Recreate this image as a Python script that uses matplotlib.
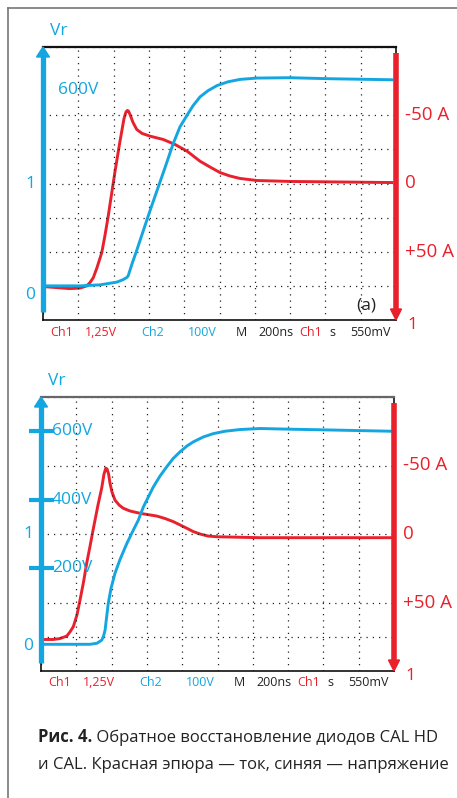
import matplotlib.pyplot as plt
import matplotlib.lines as mlines
from matplotlib.patches import Polygon
from matplotlib.ticker import MultipleLocator

plt.rcParams['font.family'] = ['Open Sans', 'DejaVu Sans']

BLUE = '#13a6e1'
RED = '#e8212c'
DARK = '#222222'

# (a) CAL HD: time in ns, voltage in V, current in A (scope traces)
t_volt_a = [21, 210, 323, 418, 453, 476, 483, 504, 531, 606, 691, 737, 776, 816, 850, 890,
            935, 986, 1048, 1116, 1212, 1399, 1626, 1977]
volt_a = [0, 0, 3, 11, 18, 25, 30, 64, 104, 220, 346, 416, 466, 500, 528, 554, 572, 587, 598,
          605, 609, 610, 607, 604]
t_curr_a = [21, 153, 210, 248, 266, 285, 306, 333, 351, 370, 389, 408, 436, 459, 470, 478, 484,
            493, 510, 531, 561, 606, 680, 748, 816, 890, 946, 1003, 1059, 1116, 1212, 1399, 1977]
curr_a = [75.7, 77, 76.6, 75, 72.6, 69, 61.6, 50.6, 38.1, 23.5, 7.3, -8.8, -30.8, -47.6, -52.4,
          -53.5, -53.1, -50.6, -44.7, -39.6, -36.7, -34.7, -32.3, -28.6, -23.7, -16.3, -12.1,
          -8, -5.5, -3.7, -2.2, -1.5, -0.7]

# (b) CAL
t_volt_b = [13, 278, 317, 344, 354, 363, 371, 381, 397, 419, 448, 486, 516, 551, 580, 636, 674,
            712, 748, 788, 827, 863, 918, 976, 1042, 1128, 1241, 1411, 1609, 1989]
volt_b = [-22, -22, -19, -10, 1.5, 19, 54, 97, 142, 185, 226, 272, 304, 340, 379, 437, 469, 496,
          520, 540, 557, 569, 583, 593, 600, 605, 608, 606, 604, 600]
t_curr_b = [13, 70, 108, 146, 164, 183, 204, 221, 241, 259, 278, 295, 323, 344, 357, 367, 374,
            383, 391, 402, 419, 442, 466, 504, 561, 656, 703, 750, 788, 826, 862, 901, 946, 996,
            1241, 1989]
curr_b = [77, 77, 76.3, 74.5, 71.5, 67.7, 59, 48.2, 35, 21.2, 8.8, -2.9, -21.2, -33.6, -43.8,
          -48, -47.5, -43.8, -37, -30.7, -24.8, -21.2, -18.8, -16.8, -15.1, -13.1, -11.3, -9,
          -6.6, -4.2, -1.8, 0, 1.5, 2, 2.7, 2.7]

volt_ticks_a = [600]
volt_ticks_b = [200, 400, 600]
amp_ticks = [-50, 0, 50]
amp_labels = ['-50 A', '0', '+50 A']
scope_labels = ['Ch1', '1,25V', 'Ch2', '100V', 'M', '200ns', 'Ch1', 's', '550mV']
scope_colors = [RED, RED, BLUE, BLUE, DARK, DARK, RED, DARK, DARK]
scope_x_px = [7, 42, 98, 145, 193, 215, 256, 286, 307]

W, H = 457, 798
fig = plt.figure(figsize=(W / 100, H / 100), dpi=100)

# outer frame
fig.add_artist(mlines.Line2D([8 / W, 1], [1 - 8 / H, 1 - 8 / H], color='#777777', lw=1.2))
fig.add_artist(mlines.Line2D([8 / W, 8 / W], [0, 1 - 8 / H], color='#777777', lw=1.2))


def panel(rect, t_v, v, t_i, i, vticks, top_color, tag):
    left, top, right, bottom = rect
    wpx, hpx = right - left, bottom - top
    ax = fig.add_axes([left / W, 1 - bottom / H, wpx / W, hpx / H])
    ax2 = ax.twinx()
    ax.set_zorder(ax2.get_zorder() + 1)
    ax.patch.set_visible(False)
    ax2.patch.set_visible(False)

    ax.set_xlim(0, 2000)
    ax.set_ylim(-100, 700)
    ax2.set_ylim(100, -100)

    # dotted scope graticule
    ax.xaxis.set_major_locator(MultipleLocator(200))
    ax.yaxis.set_minor_locator(MultipleLocator(100))
    ax.set_yticks(vticks)
    ax.grid(axis='x', which='major', color='#222222', ls=(0, (1, 4)), lw=0.9)
    ax.grid(axis='y', which='minor', color='#222222', ls=(0, (1, 4)), lw=0.9)
    ax.tick_params(axis='x', length=0, labelbottom=False)
    ax.tick_params(axis='y', which='minor', length=0)
    ax.tick_params(axis='y', which='major', direction='inout', length=18, width=3,
                   color=BLUE, labelleft=False)
    if not tag:
        ax.tick_params(axis='y', which='major', length=0)
    ax2.set_yticks([])
    for s in ax2.spines.values():
        s.set_visible(False)
    for s in ax.spines.values():
        s.set_color('#111111')
        s.set_linewidth(1.2)
    ax.spines['top'].set_color(top_color)
    ax.spines['top'].set_linewidth(1.6)

    ax2.plot(t_i, i, color=RED, lw=2.1, solid_joinstyle='round')
    ax.plot(t_v, v, color=BLUE, lw=2.1, solid_joinstyle='round')

    # channel arrows
    ax.plot([0, 0], [8 / hpx, 1 - 9 / hpx], transform=ax.transAxes, color=BLUE, lw=3.8,
            solid_capstyle='butt', clip_on=False, zorder=5)
    ax.add_patch(Polygon([(0, 1), (-6.5 / wpx, 1 - 10 / hpx), (6.5 / wpx, 1 - 10 / hpx)],
                         closed=True, transform=ax.transAxes, color=BLUE, clip_on=False, zorder=5))
    ax.plot([1, 1], [1 - 6 / hpx, 9 / hpx], transform=ax.transAxes, color=RED, lw=4.0,
            solid_capstyle='butt', clip_on=False, zorder=5)
    ax.add_patch(Polygon([(1, 0), (1 - 5.5 / wpx, 11 / hpx), (1 + 5.5 / wpx, 11 / hpx)],
                         closed=True, transform=ax.transAxes, color=RED, clip_on=False, zorder=5))

    yt = ax.get_yaxis_transform()
    ax.text(7 / wpx, 1 + 16 / hpx, 'Vr', transform=ax.transAxes, color=BLUE, fontsize=12.5,
            ha='left', va='center')
    for vt in vticks:
        if tag:
            ax.text(11 / wpx, vt, f'{vt}V', transform=yt, color=BLUE, fontsize=12.5,
                    ha='left', va='center')
        else:
            ax.text(15 / wpx, vt - 26, f'{vt}V', transform=yt, color=BLUE, fontsize=12.5,
                    ha='left', va='center')
    ax.text(-13 / wpx, 300, '1', transform=yt, color=BLUE, fontsize=12.5, ha='center', va='center')
    ax.text(-13 / wpx, -26, '0', transform=yt, color=BLUE, fontsize=12.5, ha='center', va='center')

    yt2 = ax2.get_yaxis_transform()
    for a, lab in zip(amp_ticks, amp_labels):
        ax2.text(1 + 9 / wpx, a, lab, transform=yt2, color=RED, fontsize=13.5,
                 ha='left', va='center')
    ax.text(1 + 11 / wpx, -5 / hpx, '1', transform=ax.transAxes, color=RED, fontsize=12.5,
            ha='left', va='center')

    for lab, c, xp in zip(scope_labels, scope_colors, scope_x_px):
        ax.text(xp / wpx, -12 / hpx, lab, transform=ax.transAxes, color=c, fontsize=9,
                ha='left', va='center')
    if not tag:
        ax.text(1 - 30 / wpx, 15 / hpx, '(a)', transform=ax.transAxes, color=DARK,
                fontsize=12.5, ha='center', va='center')
    return ax


panel((43, 47, 396, 320), t_volt_a, volt_a, t_curr_a, curr_a, volt_ticks_a, '#111111', False)
panel((41, 397, 394, 671), t_volt_b, volt_b, t_curr_b, curr_b, volt_ticks_b, '#666666', True)

# caption
cap1 = fig.text(38 / W, 1 - 737 / H, 'Рис. 4.', fontsize=12, fontweight='bold', color=DARK,
                ha='left', va='center')
plt.annotate(' Обратное восстановление диодов CAL HD', xy=(1, 0), xycoords=cap1,
             fontsize=12, color=DARK, ha='left', va='bottom')
fig.text(38 / W, 1 - 765 / H, 'и CAL. Красная эпюра — ток, синяя — напряжение', fontsize=12,
         color=DARK, ha='left', va='center')

fig.savefig('out.png', dpi=100)
